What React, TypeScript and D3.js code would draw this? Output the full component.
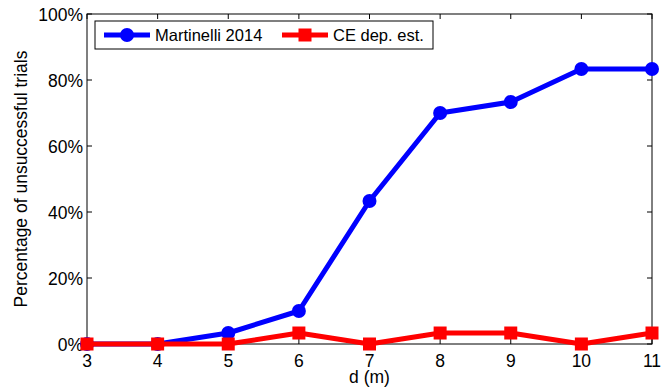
import React from "react";
import * as d3 from "d3";

const distances = [3, 4, 5, 6, 7, 8, 9, 10, 11];
const martinelli = [0, 0, 3.33, 10, 43.33, 70, 73.33, 83.33, 83.33];
const ceDep = [0, 0, 0, 3.33, 0, 3.33, 3.33, 0, 3.33];
const yTicks = [0, 20, 40, 60, 80, 100];
const seriesNames = ["Martinelli 2014", "CE dep. est."];

const W = 662, H = 389;
const M = { left: 87, right: 652, top: 14, bottom: 344 };

export default function App() {
  const x = d3.scaleLinear().domain([3, 11]).range([M.left, M.right]);
  const y = d3.scaleLinear().domain([0, 100]).range([M.bottom, M.top]);
  const line = d3.line<number>().x((_, i) => x(distances[i])).y((v) => y(v));
  const font = "Liberation Sans, Arial, Helvetica, sans-serif";
  const tl = 5;
  const fs = 17.5;
  return (
    <svg width={W} height={H} style={{ position: "absolute", left: 0, top: 0 }} fontFamily={font}>
      <rect x={0} y={0} width={W} height={H} fill="white" />
      <rect x={M.left} y={M.top} width={M.right - M.left} height={M.bottom - M.top} fill="white" stroke="black" strokeWidth={1} />
      {distances.map((d) => (
        <g key={"xt" + d}>
          <line x1={x(d)} x2={x(d)} y1={M.bottom} y2={M.bottom - tl} stroke="black" />
          <line x1={x(d)} x2={x(d)} y1={M.top} y2={M.top + tl} stroke="black" />
          <text x={x(d)} y={M.bottom + 23} textAnchor="middle" fontSize={fs}>{d}</text>
        </g>
      ))}
      {yTicks.map((t) => (
        <g key={"yt" + t}>
          <line x1={M.left} x2={M.left + tl} y1={y(t)} y2={y(t)} stroke="black" />
          <line x1={M.right} x2={M.right - tl} y1={y(t)} y2={y(t)} stroke="black" />
          <text x={M.left - 4} y={y(t) + 6.5} textAnchor="end" fontSize={fs}>{t + "%"}</text>
        </g>
      ))}
      <text x={(M.left + M.right) / 2} y={383} textAnchor="middle" fontSize={fs}>d (m)</text>
      <text transform={`translate(26.5,179) rotate(-90)`} textAnchor="middle" fontSize={fs}>Percentage of unsuccessful trials</text>
      <path d={line(martinelli) || ""} fill="none" stroke="#0000ff" strokeWidth={5} strokeLinejoin="round" />
      {martinelli.map((v, i) => (
        <circle key={"m" + i} cx={x(distances[i])} cy={y(v)} r={7} fill="#0000ff" />
      ))}
      <path d={line(ceDep) || ""} fill="none" stroke="#ff0000" strokeWidth={5} strokeLinejoin="round" />
      {ceDep.map((v, i) => (
        <rect key={"c" + i} x={x(distances[i]) - 6.5} y={y(v) - 6.5} width={13} height={13} fill="#ff0000" />
      ))}
      <g>
        <rect x={95} y={21} width={338} height={28} fill="white" stroke="black" strokeWidth={1} />
        <line x1={104} x2={150} y1={35} y2={35} stroke="#0000ff" strokeWidth={5} />
        <circle cx={127} cy={35} r={7} fill="#0000ff" />
        <text x={155} y={41} fontSize={16.5}>{seriesNames[0]}</text>
        <line x1={282} x2={328} y1={35} y2={35} stroke="#ff0000" strokeWidth={5} />
        <rect x={298.5} y={28.5} width={13} height={13} fill="#ff0000" />
        <text x={333} y={41} fontSize={16.5}>{seriesNames[1]}</text>
      </g>
    </svg>
  );
}
